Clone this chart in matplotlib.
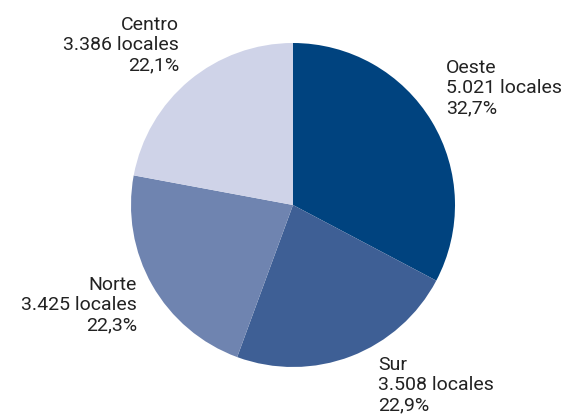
import matplotlib.pyplot as plt

zonas = ['Oeste', 'Sur', 'Norte', 'Centro']
locales = [5021, 3508, 3425, 3386]
porcentajes = ['32,7', '22,9', '22,3', '22,1']
colores = ['#00437f', '#3e5f95', '#6f84b0', '#cfd3e8']

plt.rcParams['font.family'] = ['Roboto', 'DejaVu Sans']

fig = plt.figure(figsize=(5.65, 4.17), dpi=100)
# pie centre at (293, 205) px, radius 162 px
ax = fig.add_axes([131/565, (417 - 205 - 162)/417, 324/565, 324/417])
ax.pie(locales, colors=colores, startangle=90, counterclock=False,
       wedgeprops={'linewidth': 0})
ax.set_xlim(-1, 1)
ax.set_ylim(-1, 1)
ax.set_aspect('equal')
ax.axis('off')

# posiciones de las etiquetas (en unidades del radio)
pos = {'Oeste': (0.944, 0.900, 'left'),
       'Sur': (0.525, -0.932, 'left'),
       'Norte': (-0.963, -0.438, 'right'),
       'Centro': (-0.704, 1.167, 'right')}

for z, n, p in zip(zonas, locales, porcentajes):
    x, y, ha = pos[z]
    txt = f"{z}\n{n // 1000}.{n % 1000:03d} locales\n{p}%"
    ax.text(x, y, txt, ha=ha, va='top', fontsize=14, color='#222222',
            linespacing=1.15, multialignment=ha, clip_on=False)

fig.savefig('out.png', dpi=100)
